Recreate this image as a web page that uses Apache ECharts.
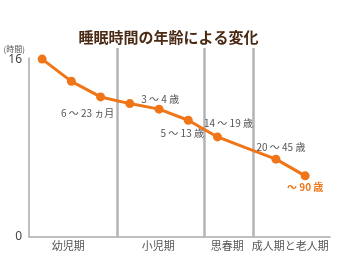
<!DOCTYPE html>
<html><head><meta charset="utf-8">
<script src="https://cdn.jsdelivr.net/npm/echarts@6/dist/echarts.min.js"></script>
<style>html,body{margin:0;padding:0;background:#fff}#c{width:337px;height:253px}</style>
</head><body><div id="c"></div>
<script>
// sleep hours by age
var stageX = [0.45, 1.45, 2.45, 3.45, 4.45, 5.45, 6.45, 7.45, 8.45, 9.45];
var sleepHours = [16, 14, 12.6, 12, 11.5, 10.5, 9, 8, 7, 5.5];
var pointLabels = ['', '', '6 ～ 23 ヵ月', '3 ～ 4 歳', '', '5 ～ 13 歳', '14 ～ 19 歳', '', '20 ～ 45 歳', '～ 90 歳'];
var periodNames = ['幼児期', '小児期', '思春期', '成人期と老人期'];
var periodCenters = [1.34, 4.42, 6.78, 8.94];
var periodBounds = [3.01, 5.99, 7.67];
var yTicks = [0, 16];
var yAxisTop = 16;
var boundTop = 17;

var labelPos = {
  '6 ～ 23 ヵ月': {position: 'bottom', offset: [-13, 2]},
  '3 ～ 4 歳': {position: 'right', offset: [2, -4]},
  '5 ～ 13 歳': {position: 'bottom', offset: [-6, -2]},
  '14 ～ 19 歳': {position: 'top', offset: [11, 1]},
  '20 ～ 45 歳': {position: 'top', offset: [5, 3]},
  '～ 90 歳': {position: 'bottom', offset: [0, -3]}
};

var data = stageX.map(function (x, i) {
  var d = {value: [x, sleepHours[i]]};
  var t = pointLabels[i];
  if (i === 7) { d.symbol = 'none'; }
  if (t) {
    var p = labelPos[t];
    d.label = {show: true, formatter: t, position: p.position, offset: p.offset,
      color: i === 9 ? '#f07518' : '#555', fontWeight: i === 9 ? 'bold' : 'normal',
      fontSize: 10, fontFamily: 'Noto Sans CJK JP'};
  }
  return d;
});

var chart = echarts.init(document.getElementById('c'), null, {renderer: 'canvas'});
chart.setOption({
  animation: false,
  title: {text: '睡眠時間の年齢による変化', left: 'center', top: 25,
    textStyle: {fontSize: 15, fontWeight: 'bold', color: '#4a2a14', fontFamily: 'Noto Sans CJK JP'}},
  grid: {left: 29, right: 7, top: 48, bottom: 16},
  xAxis: {type: 'value', min: 0, max: 10.3,
    axisLine: {show: true, lineStyle: {color: '#aaa', width: 1.5}},
    axisTick: {show: false}, splitLine: {show: false},
    axisLabel: {customValues: periodCenters, margin: 3, color: '#555', fontSize: 11,
      fontFamily: 'Noto Sans CJK JP',
      formatter: function (v) { var i = periodCenters.indexOf(v); return i >= 0 ? periodNames[i] : ''; }}
  },
  yAxis: {type: 'value', min: 0, max: boundTop,
    axisLine: {show: false},
    axisTick: {show: false}, splitLine: {show: false},
    axisLabel: {customValues: yTicks, margin: 7, color: '#444', fontSize: 12, fontFamily: 'Noto Sans'}
  },
  series: [{
    type: 'line', data: data, symbol: 'circle', symbolSize: 9, z: 3,
    itemStyle: {color: '#f07518'}, lineStyle: {color: '#f07518', width: 3},
    label: {show: false},
    markLine: {silent: true, symbol: 'none', label: {show: false}, z: 1,
      lineStyle: {color: '#b3b3b3', width: 2.5, type: 'solid'},
      data: periodBounds.map(function (b) { return [{coord: [b, 0]}, {coord: [b, boundTop]}]; })
        .concat([[{coord: [0, 0], lineStyle: {color: '#aaa', width: 1.5}}, {coord: [0, yAxisTop + 0.15]}]])
    }
  }, {
    type: 'line', data: [], silent: true,
    markPoint: {symbol: 'rect', symbolSize: 0, silent: true,
      label: {show: true, formatter: '(時間)', color: '#555', fontSize: 8, fontFamily: 'Noto Sans CJK JP',
        position: 'left', offset: [1, 1]},
      data: [{coord: [0, 17]}]}
  }]
});
</script></body></html>
